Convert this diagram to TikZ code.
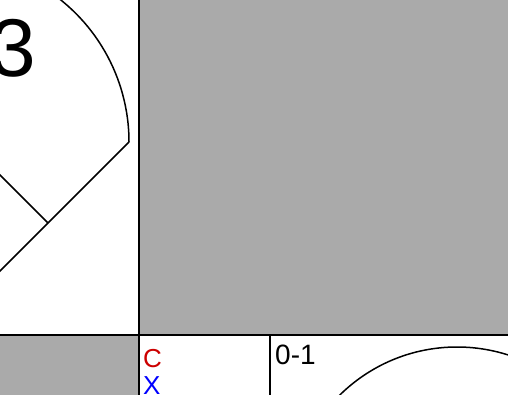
\documentclass[tikz,border=0pt]{standalone}
\usepackage{fontspec}
\setmainfont{Liberation Sans}
\definecolor{cellgray}{RGB}{170,170,170}
\definecolor{markred}{RGB}{204,0,0}
\definecolor{markblue}{RGB}{0,0,255}
\begin{document}
\begin{tikzpicture}[x=1pt, y=-1pt,
    gridline/.style={line width=2pt},
    fieldline/.style={line width=1.5pt},
    cellmark/.style={inner sep=0pt, anchor=base west}]
    \useasboundingbox (0,0) rectangle (508,395);
    \clip (0,0) rectangle (508,395);

    % shaded cells
    \fill[cellgray] (139,0) rectangle (508,335);
    \fill[cellgray] (0,335) rectangle (139,395);

    % field of the upper cell
    \coordinate (rightfoul) at (129,142);
    \coordinate (home) at (-10,281);
    \coordinate (first) at (48,223);
    \coordinate (second) at (-10,165);
    \draw[fieldline] (rightfoul) arc[start angle=0, end angle=-60, radius=182];
    \draw[fieldline] (rightfoul) -- (home);
    \draw[fieldline] (first) -- (second);

    % field of the lower cell
    \coordinate (lowercenter) at (457,514);
    \draw[fieldline] (lowercenter) circle[radius=167];

    \node (inning) [cellmark, font=\fontsize{82}{82}\selectfont] at (-10,77) {3};
    \node (catcher) [cellmark, text=markred, font=\fontsize{26}{26}\selectfont] at (143,367) {C};
    \node (cross) [cellmark, text=markblue, font=\fontsize{26}{26}\selectfont] at (143,394) {X};
    \node (count) [cellmark, font=\fontsize{28}{28}\selectfont] at (275,364) {0-1};

    % cell borders
    \draw[gridline] (139,0) -- (139,395);
    \draw[gridline] (0,335) -- (508,335);
    \draw[gridline] (270,335) -- (270,395);
\end{tikzpicture}
\end{document}
